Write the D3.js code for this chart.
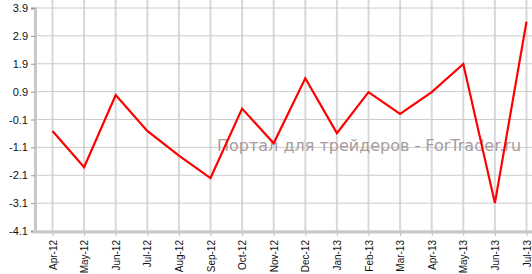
<!DOCTYPE html>
<html>
<head>
<meta charset="utf-8">
<script src="https://cdn.jsdelivr.net/npm/d3@7"></script>
<style>
    body { margin: 0; background: #fff; }
    svg { display: block; font-family: 'DejaVu Sans', Verdana, sans-serif; }
</style>
</head>
<body>
<svg id="chart" width="532" height="274"></svg>
<script>
(function() {
    'use strict';

    var months = ['Apr-12', 'May-12', 'Jun-12', 'Jul-12', 'Aug-12', 'Sep-12', 'Oct-12', 'Nov-12',
        'Dec-12', 'Jan-13', 'Feb-13', 'Mar-13', 'Apr-13', 'May-13', 'Jun-13', 'Jul-13'];
    var values = [-0.51, -1.81, 0.78, -0.51, -1.40, -2.20, 0.29, -0.95,
        1.38, -0.59, 0.88, 0.10, 0.88, 1.89, -3.10, 3.41];
    var yTicks = [3.9, 2.9, 1.9, 0.9, -0.1, -1.1, -2.1, -3.1, -4.1];
    var watermark = 'Портал для трейдеров - ForTrader.ru';

    var left = 35, top = 8, bottom = 231;
    var step = 31.6;

    var svg = d3.select('#chart');

    var x = d3.scaleLinear()
        .domain([0, months.length - 1])
        .range([left + 17.5, left + 17.5 + step * (months.length - 1)]);
    var y = d3.scaleLinear()
        .domain([-4.1, 3.9])
        .range([bottom, top]);

    //grid
    svg.append('g').selectAll('line')
        .data(months)
        .enter().append('line')
        .attr('x1', function(d, i) { return x(i); })
        .attr('x2', function(d, i) { return x(i); })
        .attr('y1', 0)
        .attr('y2', bottom)
        .attr('stroke', '#d8d8d8')
        .attr('stroke-width', 2);

    svg.append('g').selectAll('line')
        .data(yTicks)
        .enter().append('line')
        .attr('x1', left)
        .attr('x2', 532)
        .attr('y1', function(d) { return y(d); })
        .attr('y2', function(d) { return y(d); })
        .attr('stroke', '#cccccc')
        .attr('stroke-width', 1);

    //watermark under the line
    svg.append('text')
        .attr('x', 217)
        .attr('y', 151)
        .attr('fill', '#a89c9c')
        .style('font-size', '16px')
        .text(watermark);

    //y axis
    var yAxis = svg.append('g')
        .attr('transform', 'translate(' + left + ',0)')
        .call(d3.axisLeft(y).tickValues(yTicks).tickSize(4).tickPadding(3)
            .tickFormat(d3.format('.1f')));
    yAxis.select('.domain').attr('stroke', '#c8c8c8').attr('stroke-width', 3);
    yAxis.selectAll('.tick line').attr('stroke', '#999');
    yAxis.selectAll('.tick text')
        .attr('fill', '#111')
        .style('font-size', '11px')
        .text(function(d) { return d3.format('.1f')(d).replace('−', '-'); });

    //x axis
    var xAxis = svg.append('g')
        .attr('transform', 'translate(0,' + (bottom + 1) + ')')
        .call(d3.axisBottom(x).tickValues(d3.range(months.length)).tickSize(4)
            .tickFormat(function(i) { return months[i]; }));
    xAxis.select('.domain').remove();
    xAxis.append('line')
        .attr('x1', left - 2)
        .attr('x2', 532)
        .attr('stroke', '#c8c8c8')
        .attr('stroke-width', 3);
    xAxis.selectAll('.tick line').attr('stroke', '#bbb');
    xAxis.selectAll('.tick text')
        .attr('fill', '#111')
        .style('font-size', '10px')
        .attr('text-anchor', 'end')
        .attr('transform', 'rotate(-90)')
        .attr('x', -8)
        .attr('y', 0)
        .attr('dy', '0.35em');

    //series line
    var line = d3.line()
        .x(function(d, i) { return x(i); })
        .y(function(d) { return y(d); });

    svg.append('path')
        .datum(values)
        .attr('d', line)
        .attr('fill', 'none')
        .attr('stroke', '#ff0000')
        .attr('stroke-width', 2.2)
        .attr('stroke-linejoin', 'miter');
})();
</script>
</body>
</html>
